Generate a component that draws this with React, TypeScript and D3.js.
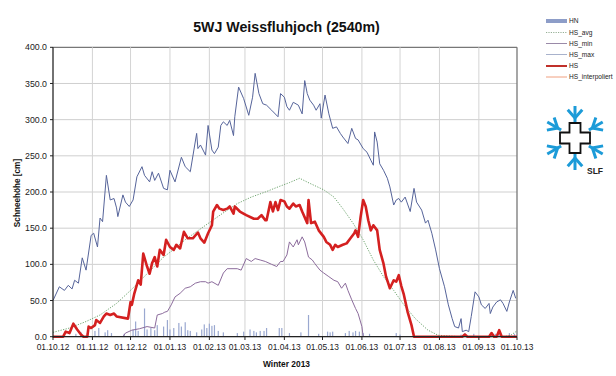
import React from "react";
import * as d3 from "d3";

// ---- data (day offsets from 01.10.2012) ----
const maxDays = [0,5,9,12,15,17,20,23,26,30,32,35,37,39,42,45,48,50,51,55,57,60,63,66,70,72,76,78,80,83,87,90,92,96,101,104,108,113,114,116,120,122,125,127,130,132,134,137,139,142,143,146,150,154,157,159,162,165,168,172,177,179,182,184,186,189,193,196,198,200,202,205,207,210,211,214,217,220,223,226,228,232,235,238,240,244,247,250,252,253,255,257,260,263,265,268,270,272,274,277,281,284,286,290,293,295,298,301,304,308,311,314,316,319,321,322,325,327,329,332,335,337,340,343,344,346,349,352,354,357,359,362,364];
const maxVals = [50,69,64,71,66,78,74,109,92,140,143,124,164,159,223,189,191,178,166,196,186,180,189,221,235,223,214,228,216,226,205,203,230,214,248,235,228,281,260,265,251,292,258,253,262,292,297,292,299,278,304,345,329,306,331,364,336,322,320,313,304,336,331,318,313,324,320,308,354,336,327,320,313,322,302,334,308,288,290,281,276,267,288,274,272,260,255,244,237,283,269,239,230,219,207,182,189,191,186,193,173,205,186,175,157,161,143,120,94,69,44,25,14,12,25,7,9,7,28,62,55,44,39,46,32,41,48,51,46,35,48,64,53];

const hsDays = [0,8,10,13,16,19,22,24,27,28,30,33,34,37,40,42,45,48,50,59,61,62,64,67,69,71,74,76,78,80,82,84,87,89,92,95,97,100,103,106,110,114,116,119,122,125,126,129,131,134,137,139,142,143,147,152,158,161,164,167,168,171,173,175,177,179,182,184,186,189,191,194,196,200,201,203,206,209,213,215,218,220,222,224,228,231,234,237,238,240,242,244,246,248,250,252,255,257,260,262,265,268,270,272,274,276,279,282,284,322,324,326,343,345,347,349,351,353,365];
const hsVals = [0,0,7,5,18,10,3,0,0,14,12,16,23,19,28,32,30,32,28,25,48,44,60,78,72,115,97,87,102,110,97,120,113,134,124,120,127,122,145,136,136,144,136,130,143,154,173,182,177,175,177,180,170,180,173,168,163,163,168,161,161,186,173,186,175,189,187,180,177,184,180,182,173,157,189,157,159,147,138,131,127,120,127,124,127,129,136,143,147,138,166,189,180,161,147,154,147,120,101,83,67,78,76,85,70,58,34,16,0,0,3,0,0,5,0,0,9,0,0];

const minDays = [55,57,62,68,74,80,82,86,88,90,93,96,100,104,108,112,116,120,122,125,130,134,137,140,145,148,152,156,159,163,167,172,176,179,181,184,186,189,192,193,196,198,201,204,206,210,213,217,221,224,227,230,232,235,238,240,243,244];
const minVals = [0,5,9,11,14,12,30,32,34,35,44,55,60,67,69,74,76,76,74,76,71,88,94,94,94,92,108,104,108,106,104,100,97,104,104,113,131,124,134,127,138,131,110,106,101,92,88,83,78,76,67,74,64,51,39,32,14,0];

const avgDays = [0,13,26,37,50,61,74,87,96,104,120,133,145,156,167,177,186,194,202,213,221,228,236,244,252,260,268,276,285,295,303,320,355,360,365];
const avgVals = [6,12,21,30,46,64,87,110,122,134,154,170,184,193,200,207,213,219,212,203,193,177,157,134,106,83,64,44,25,9,2,0,0,2,8];

const hnDays = [18,22,27,33,36,41,43,46,56,63,65,67,72,74,77,80,82,87,90,92,95,99,101,104,106,108,113,117,119,121,123,125,127,130,134,145,150,155,158,160,163,166,168,178,180,186,195,201,209,216,218,220,230,233,236,238,241,244,249,270,273,321,324,331,345,348,351,359,363];
const hnVals = [4,6,5,8,12,6,9,5,4,10,21,8,39,10,12,9,16,14,23,10,12,19,14,20,9,8,6,10,17,12,18,15,16,8,6,5,7,10,8,6,8,8,12,12,12,5,6,30,4,7,6,7,5,8,6,8,7,5,4,5,3,3,5,4,6,4,7,5,4];

const yTicks = [0, 50, 100, 150, 200, 250, 300, 350, 400];
const legendLabels = ["HN", "HS_avg", "HS_min", "HS_max", "HS", "HS_interpoliert"];

const START = new Date(2012, 9, 1);
const END = new Date(2013, 9, 1);
const dayToDate = (d: number) => START.getTime() + d * 86400000;

const FONT = "Arial, 'Liberation Sans', Helvetica, sans-serif";

export default function App() {
  const x = d3.scaleTime().domain([START, END]).range([53, 517]);
  const y = d3.scaleLinear().domain([0, 400]).range([336.7, 47.3]);
  const xd = (d: number) => x(new Date(dayToDate(d)));

  const mk = (days: number[], vals: number[]) =>
    d3.line<number>().x((_, i) => xd(days[i])).y((v) => y(v))(vals) || "";

  const months = d3.timeMonth.range(START, d3.timeDay.offset(END, 1));
  const fmt = d3.timeFormat("%d.%m.%y");

  // snowflake logo
  const cx = 575, cy = 138;
  const arms = [90, 30, -30, -90, 150, 210];
  const logoBlue = "#1c9bd8";
  const crossPts = (() => {
    const a = 5.5, b = 15;
    return [[-a,-b],[a,-b],[a,-a],[b,-a],[b,a],[a,a],[a,b],[-a,b],[-a,a],[-b,a],[-b,-a],[-a,-a]]
      .map(([px, py]) => `${cx + px},${cy + py}`).join(" ");
  })();

  return (
    <svg width={616} height={376} style={{ position: "absolute", left: 0, top: 0, background: "#fff" }} fontFamily={FONT}>
      <rect x={0} y={0} width={616} height={376} fill="#fff" />
      {/* grid */}
      {yTicks.map((t) => (
        <line key={"gy" + t} x1={53} x2={517} y1={y(t)} y2={y(t)} stroke={t === 400 ? "#777" : "#cfcfcf"} strokeWidth={t === 400 ? 1.3 : 1} />
      ))}
      {months.map((m, i) => (
        <line key={"gx" + i} x1={x(m)} x2={x(m)} y1={47.3} y2={336.7} stroke={i === months.length - 1 ? "#777" : "#d4d4d4"} strokeWidth={i === months.length - 1 ? 1.3 : 1} />
      ))}
      {/* HN bars */}
      {hnVals.map((v, i) => (
        <rect key={"hn" + i} x={xd(hnDays[i]) - 0.6} y={y(v)} width={1.2} height={y(0) - y(v)} fill="#9aa8d0" />
      ))}
      {/* lines */}
      <path d={mk(avgDays, avgVals)} fill="none" stroke="#5f9a5f" strokeWidth={0.9} strokeDasharray="1.2,1.4" />
      <path d={mk(minDays, minVals)} fill="none" stroke="#8c6c9c" strokeWidth={1} />
      <path d={mk(maxDays, maxVals)} fill="none" stroke="#56649a" strokeWidth={1} />
      <path d={mk(hsDays, hsVals)} fill="none" stroke="#d42020" strokeWidth={2.6} strokeLinejoin="round" />
      {/* axes */}
      <line x1={53} x2={53} y1={47} y2={337.5} stroke="#222" strokeWidth={1.2} />
      <line x1={52.5} x2={517} y1={336.7} y2={336.7} stroke="#222" strokeWidth={1.2} />
      {yTicks.map((t) => (
        <g key={"yt" + t}>
          <line x1={50} x2={53} y1={y(t)} y2={y(t)} stroke="#222" />
          <text x={47} y={y(t)} dy="0.35em" textAnchor="end" fontSize={8.8} fill="#222">{d3.format(".1f")(t)}</text>
        </g>
      ))}
      {months.map((m, i) => (
        <g key={"xt" + i}>
          <line x1={x(m)} x2={x(m)} y1={336.7} y2={340} stroke="#222" />
          <text x={x(m)} y={349.5} textAnchor="middle" fontSize={8.4} fill="#222">{fmt(m)}</text>
        </g>
      ))}
      {/* titles */}
      <text x={286.5} y={31.5} textAnchor="middle" fontSize={14.2} fontWeight="bold" fill="#111">5WJ Weissfluhjoch (2540m)</text>
      <text x={286.5} y={367} textAnchor="middle" fontSize={8.4} fontWeight="bold" fill="#111">Winter 2013</text>
      <text transform="translate(20,193) rotate(-90)" textAnchor="middle" fontSize={8.2} fontWeight="bold" fill="#111">Schneehöhe [cm]</text>
      {/* legend */}
      {legendLabels.map((l, i) => {
        const ly = [21, 32.5, 43.5, 54.5, 66, 77][i];
        const styles: any[] = [
          { stroke: "#8d9dc8", w: 4 },
          { stroke: "#7a9a7a", w: 0.8, dash: "1.2,1.2" },
          { stroke: "#9a8aa8", w: 1 },
          { stroke: "#a8b2cc", w: 1 },
          { stroke: "#c0302a", w: 2 },
          { stroke: "#f0a080", w: 1 },
        ];
        const s = styles[i];
        return (
          <g key={"lg" + i}>
            <line x1={546} x2={567} y1={ly} y2={ly} stroke={s.stroke} strokeWidth={s.w} strokeDasharray={s.dash} />
            <text x={569} y={ly} dy="0.35em" fontSize={6.6} fill="#222">{l}</text>
          </g>
        );
      })}
      {/* SLF logo */}
      <g stroke={logoBlue} strokeWidth={3} fill="none" strokeLinecap="butt">
        {arms.map((a) => {
          const r = (a * Math.PI) / 180;
          const ux = Math.cos(r), uy = -Math.sin(r);
          const p = (rr: number) => [cx + ux * rr, cy + uy * rr];
          const [x1, y1] = p(16);
          const [x2, y2] = p(32);
          const [hx, hy] = p(20);
          const br = (sgn: number) => {
            const ang = r + sgn * 0.72;
            return [hx + Math.cos(ang) * 11, hy - Math.sin(ang) * 11];
          };
          const [b1x, b1y] = br(1);
          const [b2x, b2y] = br(-1);
          return (
            <g key={"arm" + a}>
              <line x1={x1} y1={y1} x2={x2} y2={y2} />
              <polyline points={`${b1x},${b1y} ${hx},${hy} ${b2x},${b2y}`} />
            </g>
          );
        })}
      </g>
      <polygon points={crossPts} fill="#fff" stroke="#111" strokeWidth={1.8} />
      <text x={595} y={174} textAnchor="middle" fontSize={8.5} fontWeight="bold" fill="#222">SLF</text>
    </svg>
  );
}
